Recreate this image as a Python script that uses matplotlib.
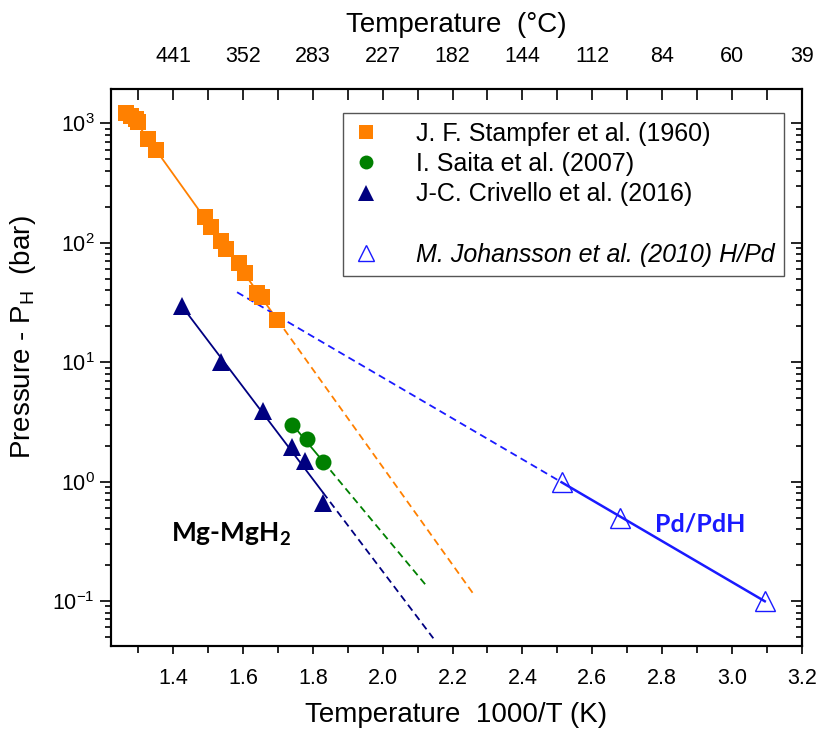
"""
Van't Hoff plot for Mg-MgH2 and Pd/PdH
"""

import numpy as np
import matplotlib.pyplot as plt
from matplotlib.lines import Line2D
from matplotlib.ticker import FixedLocator, LogLocator, NullFormatter

plt.rcParams["font.family"] = ["Liberation Sans", "DejaVu Sans"]
plt.rcParams["mathtext.fontset"] = "custom"
plt.rcParams["mathtext.rm"] = "Liberation Sans"
plt.rcParams["mathtext.it"] = "Liberation Sans:italic"

# data (1000/T in 1/K, pressure in bar)
stampfer_x = [1.266, 1.280, 1.294, 1.300, 1.329, 1.351, 1.491, 1.507, 1.536,
              1.550, 1.588, 1.605, 1.639, 1.653, 1.698]
stampfer_p = [1210, 1150, 1080, 1025, 735, 593, 163, 135, 104,
              89, 67, 56, 38, 35, 22.5]

saita_x = [1.741, 1.782, 1.829]
saita_p = [2.95, 2.25, 1.45]

crivello_x = [1.426, 1.536, 1.656, 1.741, 1.777, 1.829]
crivello_p = [29.5, 10.0, 3.9, 1.95, 1.5, 0.66]

johansson_x = [2.512, 2.680, 3.094]
johansson_p = [1.0, 0.5, 0.1]

# x extent of the extrapolated (dashed) fits
stampfer_ext = 2.262
saita_ext = 2.125
crivello_ext = 2.145
johansson_ext = 1.583

top_ticks = [1.4, 1.6, 1.8, 2.0, 2.2, 2.4, 2.6, 2.8, 3.0, 3.2]
top_labels = ["441", "352", "283", "227", "182", "144", "112", "84", "60", "39"]

c_orange = "#ff8000"
c_green = "#008000"
c_navy = "#000080"
c_blue = "#1a1aff"

fig = plt.figure(figsize=(8.19, 7.37), dpi=100)
ax = fig.add_axes([0.1355, 0.1235, 0.8435, 0.7555])


def fit_line(xs, ps, x0, x1):
    k, b = np.polyfit(xs, np.log10(ps), 1)
    xx = np.array([x0, x1])
    return xx, 10 ** (k * xx + b)


# solid fit over the data range, dashed extrapolation
for xs, ps, ext, col in [
    (stampfer_x, stampfer_p, stampfer_ext, c_orange),
    (saita_x, saita_p, saita_ext, c_green),
    (crivello_x, crivello_p, crivello_ext, c_navy),
]:
    xx, yy = fit_line(xs, ps, min(xs), max(xs))
    ax.plot(xx, yy, color=col, lw=1.3, zorder=2)
    xx, yy = fit_line(xs, ps, max(xs), ext)
    ax.plot(xx, yy, color=col, lw=1.3, ls=(0, (4, 2.5)), zorder=2)

xx, yy = fit_line(johansson_x, johansson_p, min(johansson_x), max(johansson_x))
ax.plot(xx, yy, color=c_blue, lw=1.8, zorder=2)
xx, yy = fit_line(johansson_x, johansson_p, johansson_ext, min(johansson_x))
ax.plot(xx, yy, color=c_blue, lw=1.3, ls=(0, (4, 2.5)), zorder=2)

ax.plot(stampfer_x, stampfer_p, "s", color=c_orange, ms=12, mew=0, zorder=3)
ax.plot(saita_x, saita_p, "o", color=c_green, ms=11.5, mew=0, zorder=3)
ax.plot(crivello_x, crivello_p, "^", color=c_navy, ms=13, mew=0, zorder=4)
ax.plot(johansson_x, johansson_p, "^", mfc="none", mec=c_blue, ms=14,
        mew=1.0, zorder=4)

ax.set_yscale("log")
ax.set_xlim(1.222, 3.2)
ax.set_ylim(0.042, 1930)

ax.xaxis.set_major_locator(FixedLocator(top_ticks))
ax.xaxis.set_minor_locator(FixedLocator(np.arange(1.3, 3.2, 0.2)))
ax.yaxis.set_major_locator(LogLocator(base=10, numticks=10))
ax.yaxis.set_minor_locator(LogLocator(base=10, subs=np.arange(2, 10), numticks=20))
ax.yaxis.set_minor_formatter(NullFormatter())

ax.tick_params(axis="x", which="major", direction="out", length=6, width=1.2,
               labelsize=15.5, pad=10)
ax.tick_params(axis="x", which="minor", direction="out", length=5, width=1.2)
ax.tick_params(axis="y", which="major", direction="out", length=8, width=1.2,
               labelsize=15.5, right=True)
ax.tick_params(axis="y", which="minor", direction="out", length=4, width=1.2,
               right=True)
# right-side ticks point inward
for line in ax.yaxis.get_majorticklines()[1::2] + ax.yaxis.get_minorticklines()[1::2]:
    line.set_marker(0)

for s in ax.spines.values():
    s.set_linewidth(1.5)

ax.set_xlabel("Temperature  1000/T (K)", fontsize=20, labelpad=9)
ax.set_ylabel("Pressure - P$_\\mathregular{H}$  (bar)", fontsize=20)
ax.yaxis.set_label_coords(-0.106, 0.555)

# top axis in degrees C
top = ax.twiny()
top.set_xlim(ax.get_xlim())
top.xaxis.set_major_locator(FixedLocator(top_ticks))
top.xaxis.set_minor_locator(FixedLocator(np.arange(1.3, 3.2, 0.2)))
top.set_xticklabels(top_labels)
top.tick_params(which="both", direction="in", length=8, width=1.2,
                labelsize=15.5, pad=16)
top.set_xlabel("Temperature  (°C)", fontsize=20, labelpad=10)
for s in top.spines.values():
    s.set_linewidth(1.5)

handles = [
    Line2D([], [], ls="none", marker="s", color=c_orange, ms=10, mew=0),
    Line2D([], [], ls="none", marker="o", color=c_green, ms=10, mew=0),
    Line2D([], [], ls="none", marker="^", color=c_navy, ms=11, mew=0),
    Line2D([], [], ls="none"),
    Line2D([], [], ls="none", marker="^", mfc="none", mec=c_blue, ms=12, mew=1),
]
labels = [
    "J. F. Stampfer et al. (1960)",
    "I. Saita et al. (2007)",
    "J-C. Crivello et al. (2016)",
    " ",
    "M. Johansson et al. (2010) H/Pd",
]
leg = ax.legend(handles, labels, loc="upper right",
                bbox_to_anchor=(0.974, 0.957), fontsize=18, frameon=True,
                fancybox=False, edgecolor="#555555", framealpha=1,
                handlelength=1.2, handletextpad=1.4, labelspacing=0.25,
                borderpad=0.35, borderaxespad=0)
leg.get_frame().set_linewidth(1.0)
leg.get_texts()[4].set_style("italic")

ax.text(1.565, 0.36, "Mg-MgH$_\\mathregular{2}$", fontsize=19, fontweight="bold",
        ha="center", va="center", family=["Lato", "DejaVu Sans"])
ax.text(2.91, 0.44, "Pd/PdH", fontsize=18, fontweight="bold", color=c_blue,
        ha="center", va="center", family=["Lato", "DejaVu Sans"])

fig.savefig("out.png", dpi=100)
